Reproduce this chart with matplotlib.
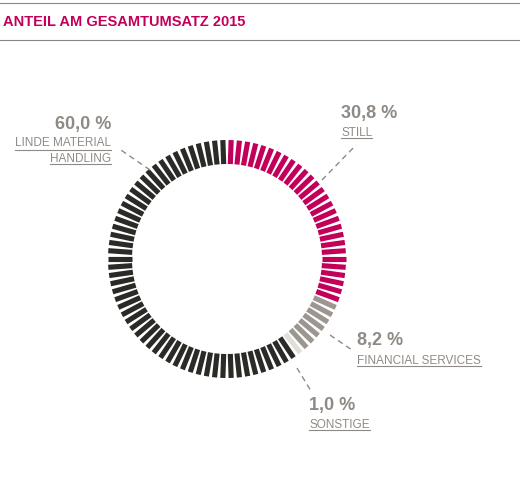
import numpy as np
import matplotlib.pyplot as plt

labels = ['STILL', 'FINANCIAL SERVICES', 'SONSTIGE', 'LINDE MATERIAL\nHANDLING']
shares = [30.8, 8.2, 1.0, 60.0]
pct_text = ['30,8 %', '8,2 %', '1,0 %', '60,0 %']
colors = ['#c2005b', '#9b9690', '#e2dfd5', '#2a2a27']

fig = plt.figure(figsize=(5.2, 4.9), dpi=100)
ax = fig.add_axes([0, 0, 1, 1])
ax.set_xlim(0, 520)
ax.set_ylim(490, 0)
ax.axis('off')

# header
ax.plot([0, 520], [3, 3], color='#8a8580', lw=0.8)
ax.plot([0, 520], [40, 40], color='#8a8580', lw=0.8)
ax.text(3, 22, 'ANTEIL AM GESAMTUMSATZ 2015', color='#c2005b', fontsize=10.5,
        fontweight='bold', va='center', family='Liberation Sans')

# segmented ring, clockwise from top
cx, cy, r_in, r_out = 227, 259, 95, 119
n = 90
counts = np.round(np.array(shares) * n / 100).astype(int)
counts[-1] = n - counts[:-1].sum()
tick_cols = []
for c, k in zip(colors, counts):
    tick_cols += [c] * k
for i in range(n):
    a = np.pi / 2 - 2 * np.pi * (i + 0.5) / n
    ax.plot([cx + r_in * np.cos(a), cx + r_out * np.cos(a)],
            [cy - r_in * np.sin(a), cy - r_out * np.sin(a)],
            color=tick_cols[i], lw=3.7, solid_capstyle='butt')

grey = '#8f8a85'
pos = [
    (341, 113, 341, 133, 'left', [(322, 180), (356, 145)]),
    (357, 340, 357, 361, 'left', [(330, 335), (352, 350)]),
    (309, 405, 309, 425, 'left', [(297, 368), (311, 391)]),
    (111, 124, 111, 151, 'right', [(150, 170), (118, 148)]),
]
for (px, py, lx, ly, ha, ld), lab, pt in zip(pos, labels, pct_text):
    ax.text(px, py, pt, color=grey, fontsize=13, fontweight='bold',
            ha=ha, va='center', family='Liberation Sans')
    ax.text(lx, ly, lab, color=grey, fontsize=8.5, ha=ha, va='center',
            family='Liberation Sans', linespacing=1.5)
    (x1, y1), (x2, y2) = ld
    ax.plot([x1, x2], [y1, y2], color=grey, lw=1, ls=(0, (4, 3)))

# underline the small labels
fig.canvas.draw()
r = fig.canvas.get_renderer()
inv = ax.transData.inverted()
for t in list(ax.texts[1:]):
    if t.get_fontsize() > 9:
        continue
    bb = t.get_window_extent(r)
    lines = t.get_text().split('\n')
    h = bb.height / len(lines)
    for j, line in enumerate(lines):
        tmp = ax.text(0, 0, line, fontsize=8.5, family='Liberation Sans')
        wj = tmp.get_window_extent(r).width
        tmp.remove()
        yb = bb.y1 - h * (j + 1) + 1
        xs = [bb.x1 - wj, bb.x1] if t.get_ha() == 'right' else [bb.x0, bb.x0 + wj]
        (a0, b0), (a1, b1) = inv.transform([(xs[0], yb), (xs[1], yb)])
        ax.plot([a0, a1], [b0, b1], color=grey, lw=0.8)

fig.savefig('out.png', dpi=100)
